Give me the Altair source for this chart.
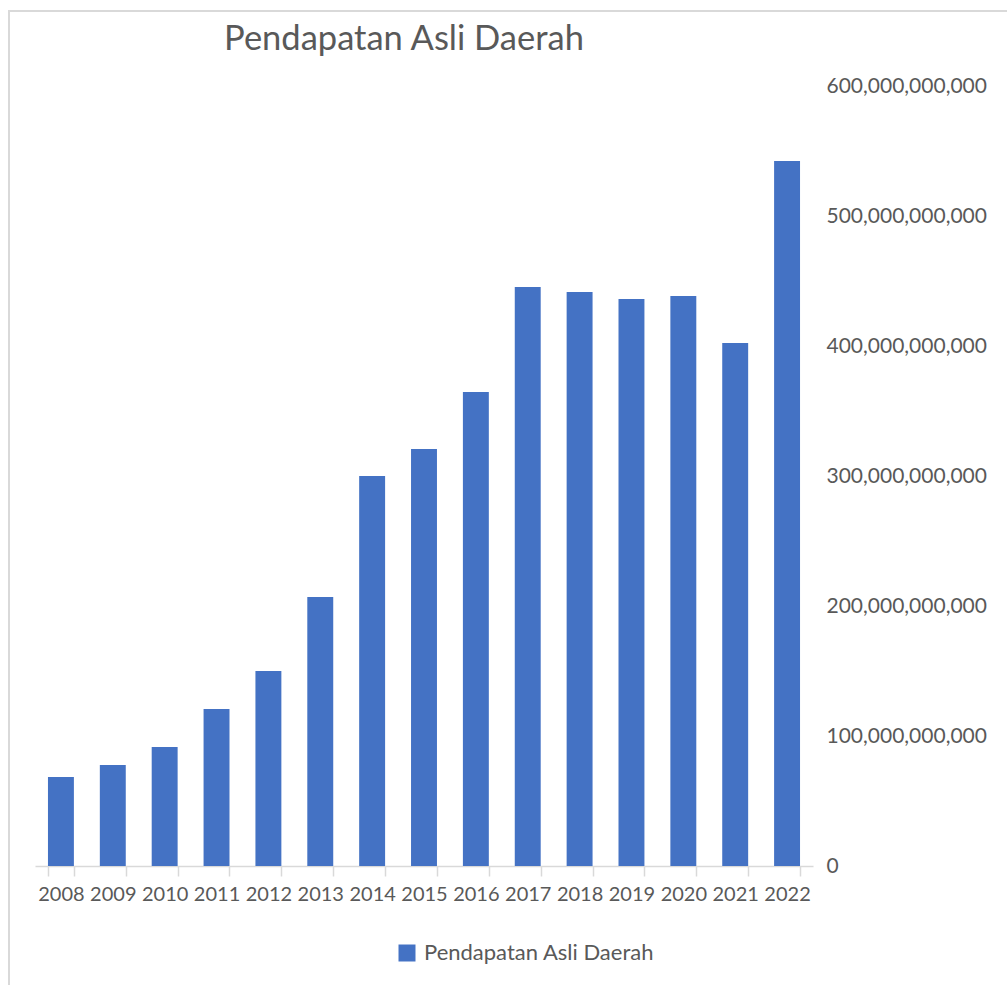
import altair as alt
import pandas as pd

years = ["2008", "2009", "2010", "2011", "2012", "2013", "2014", "2015",
         "2016", "2017", "2018", "2019", "2020", "2021", "2022"]
values_billion = [68.5, 77.7, 91.5, 120.8, 150.0, 206.9, 300.0, 320.8,
                  364.6, 445.4, 441.5, 436.2, 438.5, 402.3, 542.3]
series_name = "Pendapatan Asli Daerah"
y_ticks = [0, 100e9, 200e9, 300e9, 400e9, 500e9, 600e9]

df = pd.DataFrame({
    "Tahun": years,
    "Nilai": [v * 1e9 for v in values_billion],
    "Seri": [series_name] * len(years),
})
title_df = pd.DataFrame({"judul": [series_name]})

FONT = "Lato"
TXT = "#595959"
GRID = "#d9d9d9"

bars = alt.Chart(df).mark_bar(color="#4472C4").encode(
    x=alt.X("Tahun:N", sort=years, title=None,
            scale=alt.Scale(paddingInner=0.5, paddingOuter=0.25),
            axis=alt.Axis(labelAngle=0, labelFont=FONT, labelFontSize=20,
                          labelColor=TXT, domainColor=GRID, domainWidth=1.5,
                          tickColor=GRID, tickWidth=1.5, tickSize=10,
                          tickBand="extent", labelPadding=8)),
    y=alt.Y("Nilai:Q", title=None,
            scale=alt.Scale(domain=[0, 600e9], nice=False),
            axis=alt.Axis(orient="right", values=y_ticks, format=",.0f",
                          domain=False, ticks=False, grid=False,
                          labelFont=FONT, labelFontSize=21, labelColor=TXT,
                          labelPadding=13)),
    color=alt.Color("Seri:N", scale=alt.Scale(range=["#4472C4"]),
                    legend=alt.Legend(title=None, orient="none",
                                      legendX=361, legendY=856,
                                      symbolType="square", symbolSize=289,
                                      symbolStrokeWidth=0, labelLimit=400,
                                      labelFont=FONT, labelFontSize=22,
                                      labelColor=TXT, labelOffset=6)),
)

frame_top = alt.Chart(df).mark_rule(color=GRID, strokeWidth=2).encode(
    x=alt.value(-27), x2=alt.value(1000), y=alt.value(-75))
frame_left = alt.Chart(df).mark_rule(color=GRID, strokeWidth=2).encode(
    x=alt.value(-26), y=alt.value(-75), y2=alt.value(920))

title_mark = alt.Chart(title_df).mark_text(
    font=FONT, fontSize=34.5, color=TXT, align="center", baseline="alphabetic"
).encode(x=alt.value(369), y=alt.value(-36), text="judul:N")

chart = alt.layer(frame_top, frame_left, title_mark, bars).properties(
    width=778, height=780,
    autosize=alt.AutoSizeParams(type="none"),
    padding={"left": 35, "top": 86, "right": 194, "bottom": 119},
).configure_view(stroke=None)

chart.save("out.html", embed_options={"renderer": "svg", "actions": False})
